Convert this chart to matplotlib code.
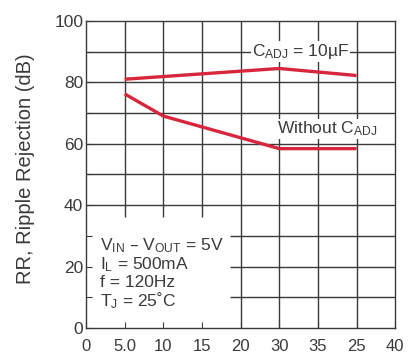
import matplotlib
matplotlib.use("Agg")
import matplotlib.pyplot as plt
import numpy as np

plt.rcParams['font.family'] = ['Liberation Sans', 'DejaVu Sans']

x_labels = ["0", "5.0", "10", "15", "20", "30", "35", "25", "40"]
cadj_x = [1, 5, 7]
cadj_y = [81.0, 84.5, 82.2]
noc_x = [1, 2, 5, 7]
noc_y = [76.2, 69.0, 58.4, 58.4]

red = "#d8263d"
grid_c = "#3a3a3a"
txt_c = "#3a3a3a"

fig = plt.figure(figsize=(4.16, 3.6), dpi=100)
ax = fig.add_axes([0.207, 0.089, 0.743, 0.853])
ax.set_xlim(0, 8)
ax.set_ylim(0, 100)

# grid with blanked-out region for the condition box
box_x, box_y = 3.73, 36
for xv in range(1, 8):
    y0 = box_y if xv < box_x else 0
    ax.vlines(xv, y0, 100, color=grid_c, lw=1.0, zorder=1)
for yv in range(10, 100, 10):
    x0 = box_x if yv < box_y else 0
    ax.hlines(yv, x0, 8, color=grid_c, lw=1.0, zorder=1)

ax.plot(cadj_x, cadj_y, color=red, lw=2.4, zorder=3, solid_capstyle='butt')
ax.plot(noc_x, noc_y, color=red, lw=2.4, zorder=3, solid_capstyle='butt')

ax.text(5.55, 90, r"$\mathregular{C_{ADJ}}$ = 10µF", ha='center', va='center',
        fontsize=12.5, color=txt_c, zorder=2,
        bbox=dict(facecolor='white', edgecolor='none', pad=0.5))
ax.text(6.25, 64.8, r"Without $\mathregular{C_{ADJ}}$", ha='center', va='center',
        fontsize=12.5, color=txt_c, zorder=2,
        bbox=dict(facecolor='white', edgecolor='none', pad=0.5))

cond = (r"$\mathregular{V_{IN}}$ – $\mathregular{V_{OUT}}$ = 5V" "\n"
        r"$\mathregular{I_L}$ = 500mA" "\n"
        "f = 120Hz" "\n"
        r"$\mathregular{T_J}$ = 25˚C")
ax.text(0.36, 30.0, cond, ha='left', va='top', fontsize=12.5, color=txt_c,
        linespacing=1.05, zorder=2)

ax.set_xticks(range(len(x_labels)))
ax.set_xticklabels(x_labels)
ax.set_yticks(np.arange(0, 101, 20))
ax.set_yticks(np.arange(0, 101, 10), minor=True)
ax.tick_params(axis='both', which='both', direction='in', length=4, width=0.8,
               colors=grid_c, labelcolor=txt_c)
ax.tick_params(axis='x', pad=8, labelsize=12)
ax.tick_params(axis='y', pad=2, labelsize=12.5)
for s in ax.spines.values():
    s.set_color(grid_c)
    s.set_linewidth(1.0)

ax.set_ylabel("RR, Ripple Rejection (dB)", fontsize=14.5, color=txt_c)
ax.yaxis.set_label_coords(-0.165, 0.52)

fig.savefig("out.png", dpi=100)
